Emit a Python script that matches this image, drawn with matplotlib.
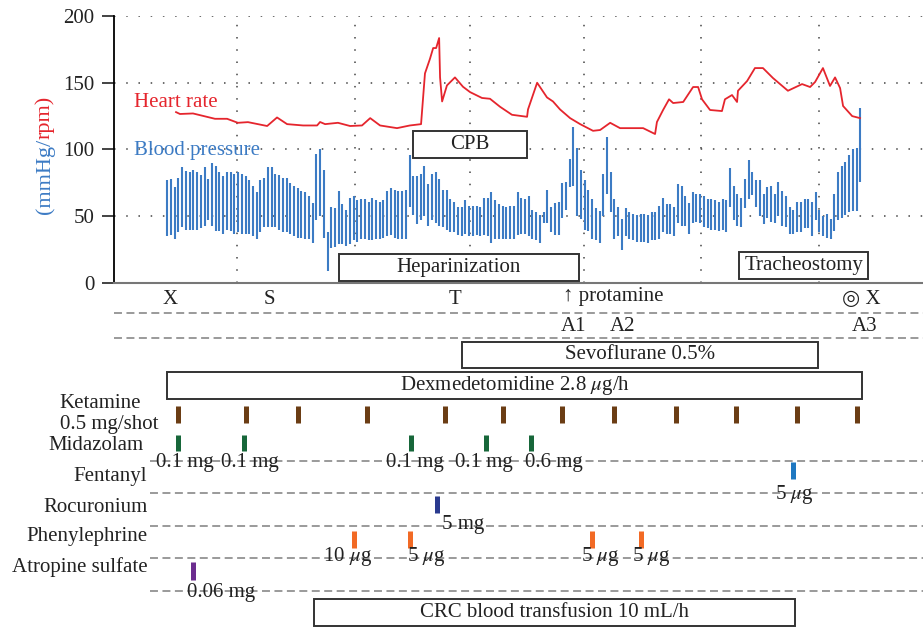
import matplotlib
matplotlib.use('Agg')
import matplotlib.pyplot as plt
import matplotlib.transforms as mtrans
from matplotlib.patches import Rectangle

plt.rcParams['font.family'] = ['Liberation Serif', 'DejaVu Sans']
plt.rcParams['mathtext.fontset'] = 'stix'
plt.rcParams['font.size'] = 15
plt.rcParams['text.color'] = '#222222'

# ---- vitals (time in minutes) ----
hr_time = [34.7, 36.8, 43.8, 55.6, 62.1, 67.9, 73.3, 83.6, 88.9, 94.3, 102.9, 110.4, 112.0,
           114.7, 121.6, 128.1, 134.5, 138.9, 144.2, 153.3, 160.2, 166.2, 168.3, 171.0, 172.7,
           174.3, 175.9, 176.4, 177.5, 180.1, 184.4, 188.7, 192.5, 198.9, 203.2, 208.6, 215.0,
           223.1, 223.6, 228.5, 233.8, 237.0, 240.8, 246.2, 251.6, 258.5, 262.3, 267.7, 273.0,
           285.4, 291.8, 292.8, 296.1, 299.3, 301.5, 306.9, 312.2, 314.9, 317.0, 321.3, 327.7,
           329.3, 333.1, 335.8, 336.3, 341.2, 345.4, 349.7, 355.1, 363.1, 370.7, 375.0, 377.7,
           381.9, 385.7, 388.4, 391.1, 392.7, 397.6, 401.8]
hr = [128, 126.6, 127, 123, 123, 120, 120.5, 117.6, 124, 119, 118, 118, 120.6,
      119, 120, 117.6, 118, 123.5, 118, 116, 118, 119, 157, 168, 176,
      176, 183.5, 154, 136, 148, 154, 147, 143, 138.6, 138, 132, 126,
      124.5, 130, 150, 139, 136, 130, 123.5, 119, 114, 114.6, 120, 116,
      116, 111.6, 120.6, 129.6, 137.6, 134.8, 135.6, 146.8, 146.8, 137.6, 129.6, 128.8,
      137.6, 140.8, 135.6, 144, 151.3, 161, 161, 153.5, 144, 149, 146.8, 150.6,
      161, 147.6, 154, 146, 132.6, 125, 123.5]

bp_time = list(range(30, 404, 2))
bp_sys = [77, 78, 72, 79, 87, 84, 83, 85, 83, 81, 87, 78, 90, 88, 83, 80, 83, 83, 82, 83,
          82, 80, 77, 73, 68, 77, 79, 87, 87, 82, 81, 79, 79, 75, 73, 71,
          69, 68, 65, 60, 97, 100, 85, 38, 57, 56, 69, 59, 55, 64, 65, 62, 63, 63, 61, 64,
          62, 61, 62, 69, 71, 70, 69, 69, 70, 96, 80, 80, 82, 88, 74, 82, 83, 78,
          70, 70, 63, 61, 57, 57, 62, 58, 58, 58, 57, 64, 64, 68, 62, 59, 58, 57, 58, 58,
          68, 64, 63, 65, 55, 53, 51, 53, 70, 57, 60, 61, 75, 76, 93, 117, 101,
          85, 77, 70, 63, 56, 54, 82, 109, 83, 63, 57, 48, 56, 53, 52, 51, 52, 52, 51, 53,
          53, 58, 64, 59, 59, 57, 74, 73, 65, 60, 68, 67, 67, 65, 63, 63, 62, 61,
          63, 62, 86, 73, 67, 64, 78, 92, 83, 77, 77, 67, 72, 73, 67, 76, 69, 65, 57, 55,
          61, 61, 63, 63, 61, 68, 55, 50, 52, 48, 67, 83, 88, 91, 96, 100, 101, 131]
bp_dia = [35, 36, 33, 38, 42, 40, 40, 40, 40, 41, 43, 47, 43, 39, 39, 37, 40, 39, 37, 38,
          37, 37, 37, 35, 33, 38, 42, 42, 42, 42, 40, 38, 38, 37, 35, 34,
          34, 33, 33, 30, 47, 50, 34, 9, 26, 27, 29, 29, 28, 29, 32, 31, 33, 33, 32, 32,
          33, 33, 34, 35, 36, 34, 33, 33, 33, 57, 51, 44, 47, 50, 43, 47, 45, 43,
          42, 40, 38, 38, 36, 35, 37, 35, 35, 36, 35, 36, 35, 30, 33, 33, 33, 33, 33, 33,
          36, 37, 37, 35, 33, 32, 30, 45, 45, 38, 36, 36, 49, 55, 72, 73, 50,
          48, 40, 39, 33, 32, 30, 50, 67, 53, 33, 35, 25, 35, 33, 32, 31, 31, 31, 30, 32,
          32, 33, 38, 37, 37, 35, 45, 43, 43, 37, 45, 46, 45, 42, 41, 40, 40, 39,
          40, 38, 57, 47, 43, 42, 56, 63, 66, 57, 50, 44, 49, 46, 45, 50, 43, 42, 37, 37,
          38, 38, 41, 41, 35, 47, 38, 35, 34, 33, 39, 47, 49, 51, 53, 54, 54, 76]

# ---- events ----
event_time = [31.5, 84.6, 184.4, 402.4]
event_text = ['X', 'S', 'T', '\u25ce X']
protamine_time = 242.4
anes_time = [247.8, 274.1, 404.0]
anes_text = ['A1', 'A2', 'A3']

top_boxes = [('CPB', 162, 223), ('Heparinization', 122, 251), ('Tracheostomy', 337, 406)]
infusions = [('Sevoflurane 0.5%', 188, 379), ('Dexmedetomidine 2.8 $\\mu$g/h', 30, 403),
             ('CRC blood transfusion 10 mL/h', 109, 367)]

ketamine_t = [36, 72, 100, 137, 179, 210, 242, 270, 303, 335, 368, 400]
midazolam_t = [36, 71, 161, 201, 225]
midazolam_dose = ['0.1 mg', '0.1 mg', '0.1 mg', '0.1 mg', '0.6 mg']
fentanyl_t = [366]
fentanyl_dose = ['5 $\\mu$g']
rocuronium_t = [175]
rocuronium_dose = ['5 mg']
phenyl_t = [130, 160, 258, 284]
phenyl_dose = ['10 $\\mu$g', '5 $\\mu$g', '5 $\\mu$g', '5 $\\mu$g']
atropine_t = [44]
atropine_dose = ['0.06 mg']

BLUE = '#3c7bc4'
RED = '#e5252d'
W, H = 923, 629
XLIM = (1.4, 435.6)

fig = plt.figure(figsize=(W / 100, H / 100), dpi=100)
ax = fig.add_axes([114 / W, 1 - 283 / H, 809 / W, (283 - 16) / H])
ax2 = fig.add_axes([114 / W, 0, 809 / W, 1 - 283 / H])

# ---------- top panel ----------
ax.set_xlim(*XLIM)
ax.set_ylim(0, 200)
for y in [50, 100, 150, 200]:
    ax.axhline(y, color='#444', lw=1.1, ls=(0, (1, 7)), zorder=0)
for x in [67.4, 130.8, 192.5, 253.7, 316.5, 379.8]:
    ax.axvline(x, color='#444', lw=1.1, ls=(0, (1, 7)), zorder=0)

ax.vlines(bp_time, bp_dia, bp_sys, color=BLUE, lw=1.5, zorder=2)
ax.plot(hr_time, hr, color=RED, lw=1.3, zorder=2)

ax.text(12, 135, 'Heart rate', color=RED, ha='left', va='center')
ax.text(12, 99, 'Blood pressure', color=BLUE, ha='left', va='center')

box_y = {'CPB': (94, 114), 'Heparinization': (1.5, 21.5), 'Tracheostomy': (3, 23)}
for name, x0, x1 in top_boxes:
    y0, y1 = box_y[name]
    ax.add_patch(Rectangle((x0, y0), x1 - x0, y1 - y0, fc='white', ec='#333', lw=1.4, zorder=4))
    ax.text((x0 + x1) / 2, (y0 + y1) / 2, name, ha='center', va='center', zorder=5)

for s in ['top', 'right']:
    ax.spines[s].set_visible(False)
ax.spines['left'].set_linewidth(1.3)
ax.spines['bottom'].set_color('#777')
ax.spines['bottom'].set_linewidth(1.5)
ax.set_xticks([])
ax.set_yticks([0, 50, 100, 150, 200])
ax.tick_params(axis='y', length=9, width=1.2, pad=5, labelsize=15, colors='#222')

t1 = fig.text(45 / W, 1 - 214 / H, '(mmHg/', rotation=90, color=BLUE, ha='center', va='bottom',
              fontsize=16)
ax.annotate('rpm)', xy=(0.5, 1), xycoords=t1, rotation=90, color=RED, ha='center', va='bottom',
            fontsize=16)

# ---------- bottom panel ----------
ax2.set_xlim(*XLIM)
ax2.set_ylim(629, 283)
ax2.axis('off')
blend = mtrans.blended_transform_factory(ax2.transAxes, ax2.transData)
dash = dict(color='#9a9a9a', lw=1.4, ls=(0, (4.1, 2.3)), clip_on=False, transform=blend, zorder=1)

for y in [313, 338]:
    ax2.plot([0, 1], [y, y], **dash)
for y in [461, 493, 526, 558, 591]:
    ax2.plot([0.045, 1], [y, y], **dash)

for t, s in zip(event_time, event_text):
    ax2.text(t, 300, s, ha='center', va='center')
ax2.text(protamine_time, 297, '\u2191 protamine', ha='left', va='center')
for t, s in zip(anes_time, anes_text):
    ax2.text(t, 327, s, ha='center', va='center')

inf_y = [(342, 368), (372, 399), (599, 626)]
for (name, x0, x1), (y0, y1) in zip(infusions, inf_y):
    ax2.add_patch(Rectangle((x0, y0), x1 - x0, y1 - y0, fc='white', ec='#333', lw=1.4, zorder=3))
    ax2.text((x0 + x1) / 2, (y0 + y1) / 2, name, ha='center', va='center', zorder=4)

ax2.text(-0.067, 414, 'Ketamine\n0.5 mg/shot', transform=blend, ha='left', va='center',
         linespacing=1.15, clip_on=False)
ax2.vlines(ketamine_t, 406, 423, color='#6b3d14', lw=3.6)

rows = [
    ('Midazolam', midazolam_t, midazolam_dose, '#17673a', (435, 451), 462, 446, 0.036, [6, 6, 4, -2, 23]),
    ('Fentanyl', fentanyl_t, fentanyl_dose, '#1f78c1', (462, 479), 494, 476, 0.041, [1]),
    ('Rocuronium', rocuronium_t, rocuronium_dose, '#2a3a8f', (496, 513), 525, 507, 0.041, [26]),
    ('Phenylephrine', phenyl_t, phenyl_dose, '#f26a25', (531, 548), 557, 537, 0.041, [-6, 17, 8, 11]),
    ('Atropine sulfate', atropine_t, atropine_dose, '#6c2d8f', (562, 580), 592, 567, 0.041, [28]),
]
for name, times, doses, col, (ya, yb), ylab, yname, xname, nudge in rows:
    ax2.text(xname, yname, name, transform=blend, ha='right', va='center', clip_on=False)
    ax2.vlines(times, ya, yb, color=col, lw=3.6, zorder=3)
    for t, d, n in zip(times, doses, nudge):
        ax2.annotate(d, (t, ylab), xytext=(n, 0), textcoords='offset pixels',
                     ha='center', va='center', zorder=4)

fig.savefig('out.png', dpi=100)
